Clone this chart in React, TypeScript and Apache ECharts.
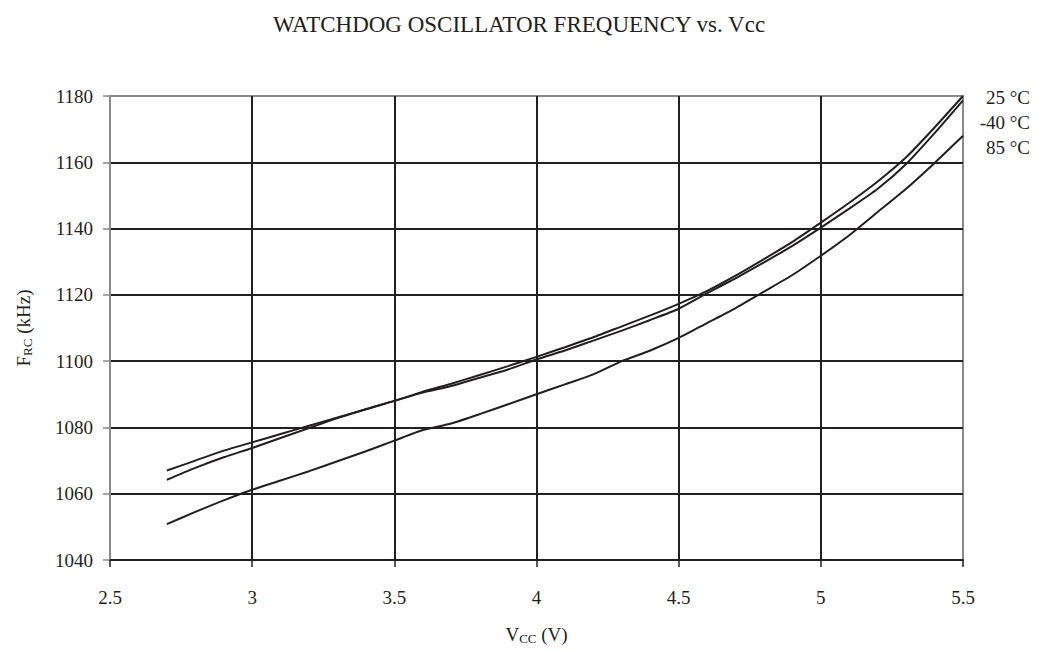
import React, { useEffect, useRef } from "react";
import * as echarts from "echarts";

const vcc = [2.7, 2.8, 2.9, 3.0, 3.1, 3.2, 3.3, 3.4, 3.5, 3.6, 3.7, 3.8, 3.9, 4.0, 4.1, 4.2, 4.3, 4.4, 4.5, 4.6, 4.7, 4.8, 4.9, 5.0, 5.1, 5.2, 5.3, 5.4, 5.5];

const t25 = [1064.2, 1067.8, 1071.0, 1073.8, 1076.8, 1079.8, 1082.8, 1085.5, 1088.0, 1090.8, 1093.2, 1095.8, 1098.5, 1101.3, 1104.2, 1107.2, 1110.5, 1113.8, 1117.3, 1121.2, 1125.8, 1130.8, 1136.0, 1141.8, 1147.8, 1154.2, 1161.5, 1170.5, 1180.0];

const tm40 = [1067.0, 1070.0, 1073.0, 1075.5, 1078.0, 1080.5, 1083.0, 1085.5, 1088.0, 1090.5, 1092.5, 1095.0, 1097.5, 1100.5, 1103.2, 1106.2, 1109.2, 1112.4, 1115.8, 1120.5, 1125.0, 1129.8, 1134.8, 1140.3, 1146.0, 1152.0, 1159.5, 1168.8, 1178.7];

const t85 = [1050.8, 1054.5, 1058.0, 1061.2, 1064.0, 1066.8, 1069.8, 1072.8, 1076.0, 1079.2, 1081.2, 1084.0, 1087.0, 1090.0, 1093.0, 1096.0, 1100.0, 1103.2, 1107.0, 1111.5, 1116.0, 1121.0, 1126.0, 1131.8, 1138.0, 1145.0, 1152.0, 1159.8, 1168.0];

const seriesNames = ["25 °C", "-40 °C", "85 °C"];
const seriesValues = [t25, tm40, t85];

const titleText = "WATCHDOG OSCILLATOR FREQUENCY vs. Vcc";

const FONT = "'Liberation Serif', 'Times New Roman', serif";
const DARK = "#231f20";
const GRAY = "#8a8a8a";

export default function App() {
  const ref = useRef<HTMLDivElement>(null);

  useEffect(() => {
    if (!ref.current) return;
    const chart = echarts.init(ref.current, undefined, { renderer: "svg" });

    const series = seriesValues.map((vals, i) => ({
      name: seriesNames[i],
      type: "line",
      data: vcc.map((x, j) => [x, vals[j]]),
      showSymbol: false,
      smooth: 0.2,
      lineStyle: { color: DARK, width: 2 },
      z: 3,
    }));

    chart.setOption({
      animation: false,
      backgroundColor: "#ffffff",
      textStyle: { fontFamily: FONT },
      title: {
        text: titleText,
        left: "center",
        top: 8,
        textStyle: { fontFamily: FONT, fontSize: 23, fontWeight: "normal", color: DARK },
      },
      grid: {
        left: 110,
        right: 75,
        top: 96,
        bottom: 86,
        show: true,
        borderColor: GRAY,
        borderWidth: 2,
        backgroundColor: "transparent",
      },
      xAxis: {
        type: "value",
        min: 2.5,
        max: 5.5,
        interval: 0.5,
        axisLine: { show: true, lineStyle: { color: DARK, width: 2 } },
        axisTick: { show: true, length: 7, lineStyle: { color: DARK, width: 1.5 } },
        axisLabel: { color: DARK, fontSize: 19, fontFamily: FONT, margin: 28, formatter: (v: number) => String(v) },
        splitLine: { show: true, showMinLine: false, showMaxLine: false, lineStyle: { color: DARK, width: 2 } },
        name: "{v|V}{s|CC}{v| (V)}",
        nameLocation: "middle",
        nameGap: 64,
        nameTextStyle: {
          rich: {
            v: { fontSize: 19, fontFamily: FONT, color: DARK },
            s: { fontSize: 13, fontFamily: FONT, color: DARK, padding: [8, 0, 0, 0] },
          },
        },
      },
      yAxis: {
        type: "value",
        min: 1040,
        max: 1180,
        interval: 20,
        axisLine: { show: true, lineStyle: { color: GRAY, width: 2 } },
        axisTick: { show: true, length: 7, lineStyle: { color: GRAY, width: 1.5 } },
        axisLabel: { color: DARK, fontSize: 19, fontFamily: FONT, margin: 17, formatter: (v: number) => String(v) },
        splitLine: { show: true, showMinLine: false, showMaxLine: false, lineStyle: { color: DARK, width: 2 } },
        name: "{v|F}{s|RC}{v| (kHz)}",
        nameLocation: "middle",
        nameRotate: 90,
        nameGap: 76,
        nameTextStyle: {
          rich: {
            v: { fontSize: 19, fontFamily: FONT, color: DARK },
            s: { fontSize: 13, fontFamily: FONT, color: DARK, padding: [8, 0, 0, 0] },
          },
        },
      },
      graphic: seriesNames.map((n, i) => ({
        type: "text",
        right: 8,
        top: 88 + i * 25,
        style: { text: n, fontSize: 19, fontFamily: FONT, fill: DARK, textAlign: "right" },
      })),
      series,
    });

    return () => chart.dispose();
  }, []);

  return <div ref={ref} style={{ width: 1038, height: 650, position: "absolute", left: 0, top: 0 }} />;
}
